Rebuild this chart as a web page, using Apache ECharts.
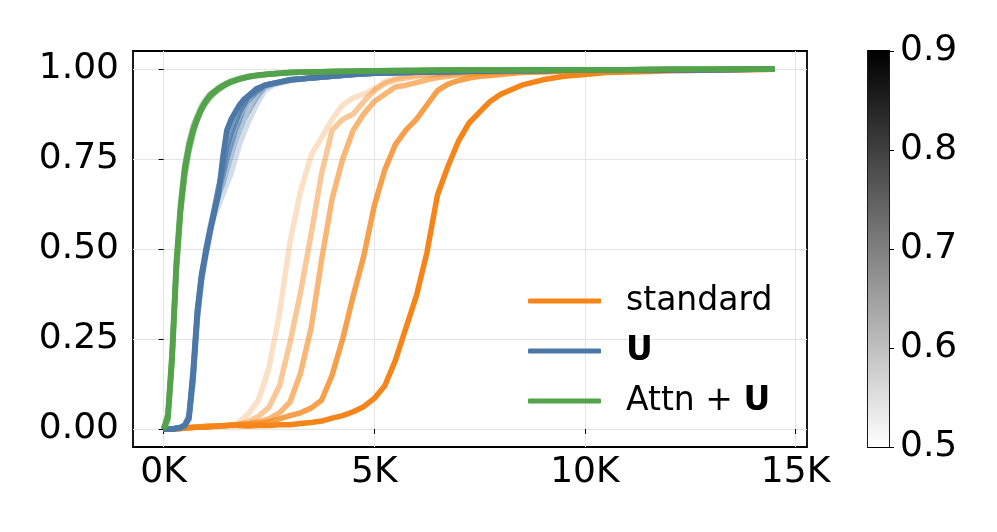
<!DOCTYPE html>
<html>
<head>
<meta charset="utf-8">
<script src="https://cdn.jsdelivr.net/npm/echarts@6/dist/echarts.min.js"></script>
<style>
html, body { margin: 0; background: #fff; }
#chart { width: 997px; height: 532px; }
</style>
</head>
<body>
<div id="chart"></div>
<script>
// colorbar parameter for each run and the alpha it is drawn with
const params = [0.5, 0.6, 0.7, 0.8, 0.9];
const alphas = [0.25, 0.45, 0.6, 0.78, 1];

// x steps (training steps)
const stepsStd = [0, 250, 500, 750, 1000, 1250, 1500, 1750, 2000, 2250, 2500, 2750, 3000, 3250, 3500, 3750,
    4000, 4250, 4500, 4750, 5000, 5250, 5500, 5750, 6000, 6250, 6500, 6750, 7000, 7250, 7500, 7750, 8000,
    8500, 9000, 9500, 10000, 10500, 11000, 11500, 12000, 12500, 13000, 13500, 14000, 14500];
const stepsFast = [0, 100, 200, 300, 400, 500, 600, 700, 800, 900, 1000, 1100, 1200, 1300, 1400, 1500,
    1600, 1700, 1800, 1900, 2000, 2200, 2400, 2600, 2800, 3000, 3500, 4000, 4500, 5000,
    6000, 7000, 8000, 9000, 10000, 11000, 12000, 13000, 14000, 14500];

// standard (orange), one row per param
const std05 = [0, 0, 0.002, 0.004, 0.005, 0.006, 0.008, 0.015, 0.04, 0.08, 0.17, 0.32, 0.52, 0.66, 0.76, 0.81,
    0.86, 0.9, 0.92, 0.93, 0.945, 0.965, 0.975, 0.98, 0.982, 0.985, 0.987, 0.988, 0.99, 0.99, 0.991, 0.992, 0.993,
    0.994, 0.995, 0.995, 0.996, 0.996, 0.997, 0.997, 0.998, 0.998, 0.998, 0.999, 0.999, 0.999];
const std06 = [0, 0, 0.003, 0.005, 0.006, 0.008, 0.01, 0.012, 0.02, 0.035, 0.06, 0.12, 0.24, 0.38, 0.54, 0.71,
    0.83, 0.86, 0.875, 0.91, 0.94, 0.96, 0.97, 0.975, 0.98, 0.983, 0.985, 0.987, 0.989, 0.99, 0.991, 0.992, 0.993,
    0.994, 0.995, 0.995, 0.996, 0.996, 0.997, 0.997, 0.998, 0.998, 0.998, 0.999, 0.999, 0.999];
const std07 = [0, 0, 0.003, 0.005, 0.006, 0.008, 0.01, 0.012, 0.015, 0.02, 0.028, 0.045, 0.075, 0.155, 0.28, 0.47,
    0.64, 0.75, 0.83, 0.875, 0.91, 0.93, 0.95, 0.955, 0.962, 0.97, 0.976, 0.98, 0.984, 0.987, 0.989, 0.99, 0.991,
    0.993, 0.994, 0.995, 0.995, 0.996, 0.996, 0.997, 0.997, 0.998, 0.998, 0.999, 0.999, 0.999];
const std08 = [0, 0, 0.003, 0.005, 0.008, 0.008, 0.01, 0.012, 0.012, 0.015, 0.02, 0.028, 0.037, 0.045, 0.058, 0.08,
    0.15, 0.25, 0.37, 0.48, 0.62, 0.72, 0.79, 0.83, 0.86, 0.9, 0.94, 0.958, 0.968, 0.975, 0.98, 0.982, 0.985,
    0.99, 0.992, 0.994, 0.995, 0.995, 0.996, 0.996, 0.997, 0.997, 0.998, 0.998, 0.999, 0.999];
const std09 = [0, 0, 0.003, 0.005, 0.005, 0.008, 0.01, 0.01, 0.008, 0.01, 0.01, 0.012, 0.012, 0.015, 0.018, 0.022,
    0.03, 0.037, 0.048, 0.062, 0.085, 0.12, 0.19, 0.28, 0.37, 0.49, 0.65, 0.73, 0.8, 0.85, 0.88, 0.91, 0.93,
    0.955, 0.97, 0.98, 0.985, 0.99, 0.992, 0.993, 0.995, 0.996, 0.997, 0.998, 0.998, 0.999];

// U (blue)
const u05 = [0, 0, 0, 0.002, 0.005, 0.012, 0.04, 0.17, 0.33, 0.43, 0.5, 0.55, 0.59, 0.62, 0.65, 0.68, 0.71, 0.75, 0.79, 0.82,
    0.85, 0.9, 0.94, 0.955, 0.962, 0.968, 0.975, 0.98, 0.985, 0.988, 0.991, 0.993, 0.995, 0.996, 0.997, 0.997, 0.998, 0.998, 0.999, 0.999];
const u06 = [0, 0, 0, 0.001, 0.003, 0.008, 0.025, 0.13, 0.3, 0.42, 0.5, 0.56, 0.61, 0.65, 0.68, 0.72, 0.76, 0.8, 0.83, 0.86,
    0.88, 0.92, 0.95, 0.958, 0.963, 0.968, 0.975, 0.98, 0.985, 0.988, 0.991, 0.993, 0.995, 0.996, 0.997, 0.997, 0.998, 0.998, 0.999, 0.999];
const u07 = [0, 0, 0, 0.002, 0.004, 0.01, 0.035, 0.15, 0.31, 0.41, 0.48, 0.54, 0.6, 0.66, 0.7, 0.75, 0.79, 0.83, 0.86, 0.89,
    0.91, 0.935, 0.955, 0.96, 0.965, 0.97, 0.975, 0.98, 0.985, 0.988, 0.991, 0.993, 0.995, 0.996, 0.997, 0.997, 0.998, 0.998, 0.999, 0.999];
const u08 = [0, 0, 0, 0.002, 0.004, 0.01, 0.03, 0.14, 0.32, 0.42, 0.49, 0.55, 0.61, 0.67, 0.72, 0.78, 0.82, 0.85, 0.88, 0.9,
    0.92, 0.94, 0.955, 0.96, 0.965, 0.97, 0.975, 0.98, 0.985, 0.988, 0.991, 0.993, 0.995, 0.996, 0.997, 0.997, 0.998, 0.998, 0.999, 0.999];
const u09 = [0, 0, 0, 0.002, 0.004, 0.01, 0.03, 0.16, 0.33, 0.43, 0.49, 0.55, 0.6, 0.65, 0.75, 0.83, 0.86, 0.88, 0.9, 0.915,
    0.925, 0.945, 0.955, 0.96, 0.965, 0.97, 0.975, 0.98, 0.985, 0.988, 0.991, 0.993, 0.995, 0.996, 0.997, 0.997, 0.998, 0.998, 0.999, 0.999];

// Attn + U (green)
const a05 = [0, 0.04, 0.22, 0.47, 0.63, 0.73, 0.8, 0.84, 0.87, 0.9, 0.915, 0.93, 0.94, 0.948, 0.955, 0.962, 0.966, 0.97, 0.974, 0.977,
    0.98, 0.983, 0.986, 0.988, 0.989, 0.99, 0.992, 0.993, 0.994, 0.995, 0.996, 0.997, 0.997, 0.998, 0.998, 0.998, 0.999, 0.999, 0.999, 0.999];
const a06 = [0, 0.02, 0.18, 0.44, 0.6, 0.71, 0.79, 0.84, 0.87, 0.895, 0.915, 0.93, 0.938, 0.948, 0.955, 0.96, 0.967, 0.97, 0.973, 0.976,
    0.979, 0.983, 0.985, 0.987, 0.989, 0.99, 0.992, 0.993, 0.994, 0.995, 0.996, 0.997, 0.997, 0.998, 0.998, 0.998, 0.999, 0.999, 0.999, 0.999];
const a07 = [0, 0.03, 0.19, 0.43, 0.6, 0.7, 0.77, 0.82, 0.86, 0.885, 0.905, 0.92, 0.932, 0.942, 0.95, 0.957, 0.963, 0.967, 0.971, 0.974,
    0.977, 0.981, 0.984, 0.987, 0.988, 0.99, 0.992, 0.993, 0.994, 0.995, 0.996, 0.997, 0.997, 0.998, 0.998, 0.998, 0.999, 0.999, 0.999, 0.999];
const a08 = [0, 0.04, 0.21, 0.46, 0.62, 0.73, 0.79, 0.83, 0.865, 0.89, 0.91, 0.927, 0.937, 0.946, 0.953, 0.96, 0.964, 0.969, 0.973, 0.976,
    0.979, 0.982, 0.985, 0.987, 0.988, 0.99, 0.992, 0.993, 0.994, 0.995, 0.996, 0.997, 0.997, 0.998, 0.998, 0.998, 0.999, 0.999, 0.999, 0.999];
const a09 = [0, 0.03, 0.2, 0.45, 0.61, 0.72, 0.78, 0.83, 0.86, 0.89, 0.91, 0.925, 0.935, 0.945, 0.952, 0.958, 0.965, 0.968, 0.972, 0.975,
    0.978, 0.982, 0.985, 0.987, 0.988, 0.99, 0.992, 0.993, 0.994, 0.995, 0.996, 0.997, 0.997, 0.998, 0.998, 0.998, 0.999, 0.999, 0.999, 0.999];

const xTicks = [0, 5000, 10000, 15000];
const yTicks = [0, 0.25, 0.5, 0.75, 1];

const FONT = 'DejaVu Sans';

function makeSeries(name, color, steps, rows) {
    return rows.map((vals, i) => ({
        // only the darkest run carries the legend name
        name: i === rows.length - 1 ? name : name + ' ' + params[i],
        type: 'line',
        xAxisIndex: 0,
        yAxisIndex: 0,
        data: steps.map((s, j) => [s, vals[j]]),
        symbol: 'none',
        silent: true,
        lineStyle: { color: color, width: 5.5, opacity: alphas[i], join: 'round' },
        itemStyle: { color: color }
    }));
}

const series = [].concat(
    makeSeries('standard', '#f58518', stepsStd, [std05, std06, std07, std08, std09]),
    makeSeries('U', '#4c78a8', stepsFast, [u05, u06, u07, u08, u09]),
    makeSeries('Attn + U', '#54a24b', stepsFast, [a05, a06, a07, a08, a09])
);

// colorbar as a bar in a second grid
series.push({
    type: 'bar',
    xAxisIndex: 1,
    yAxisIndex: 1,
    data: [params[params.length - 1]],
    barWidth: '100%',
    silent: true,
    itemStyle: {
        color: new echarts.graphic.LinearGradient(0, 0, 0, 1, [
            { offset: 0, color: '#000000' },
            { offset: 1, color: '#ffffff' }
        ])
    }
});

let chart = echarts.init(document.getElementById('chart'));

const option = {
    animation: false,
    backgroundColor: '#fff',
    grid: [
        { left: 133, right: 190, top: 51, bottom: 85, show: true, borderColor: '#000', borderWidth: 1.8, backgroundColor: 'transparent' },
        { left: 868, width: 21, top: 51, bottom: 85, show: true, borderColor: '#000', borderWidth: 1.8, backgroundColor: 'transparent' }
    ],
    xAxis: [
        {
            type: 'value',
            gridIndex: 0,
            min: -727,
            max: 15272,
            axisLine: { show: false },
            axisTick: { show: true, customValues: xTicks, length: 5, lineStyle: { color: '#000', width: 1 } },
            axisLabel: {
                customValues: xTicks,
                margin: 8,
                fontSize: 36,
                fontFamily: FONT,
                color: '#000',
                formatter: v => (v / 1000) + 'K'
            },
            splitLine: { show: true, lineStyle: { color: '#e4e4e4', width: 1 } }
        },
        {
            type: 'category',
            gridIndex: 1,
            data: ['c'],
            show: false
        }
    ],
    yAxis: [
        {
            type: 'value',
            gridIndex: 0,
            min: -0.05,
            max: 1.05,
            axisLine: { show: false },
            axisTick: { show: true, customValues: yTicks, length: 5, lineStyle: { color: '#000', width: 1 } },
            axisLabel: {
                customValues: yTicks,
                margin: 14,
                fontSize: 36,
                fontFamily: FONT,
                color: '#000',
                formatter: v => v.toFixed(2)
            },
            splitLine: { show: true, lineStyle: { color: '#e4e4e4', width: 1 } }
        },
        {
            type: 'value',
            gridIndex: 1,
            position: 'right',
            min: 0.5,
            max: 0.9,
            interval: 0.1,
            axisLine: { show: false },
            axisTick: { show: true, length: 5, lineStyle: { color: '#000', width: 1 } },
            axisLabel: {
                margin: 11,
                fontSize: 36,
                fontFamily: FONT,
                color: '#000',
                formatter: v => v.toFixed(1)
            },
            splitLine: { show: false }
        }
    ],
    legend: {
        data: ['standard', 'U', 'Attn + U'],
        orient: 'vertical',
        left: 523,
        top: 276,
        icon: 'roundRect',
        itemWidth: 73,
        itemHeight: 5,
        itemGap: 10,
        selectedMode: false,
        textStyle: {
            fontSize: 33,
            fontFamily: FONT,
            color: '#000',
            lineHeight: 40,
            padding: [0, 0, 0, 20],
            rich: {
                b: { fontSize: 33, fontFamily: FONT, fontWeight: 'bold', color: '#000', lineHeight: 40 }
            }
        },
        formatter: function (name) {
            if (name === 'U') return '{b|U}';
            if (name === 'Attn + U') return 'Attn + {b|U}';
            return name;
        }
    },
    series: series
};

chart.setOption(option);

window.addEventListener('resize', function () {
    chart.resize();
});
</script>
</body>
</html>
